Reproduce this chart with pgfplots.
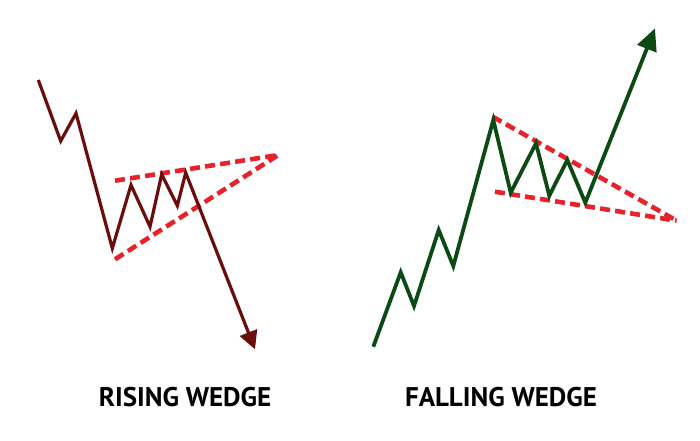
\documentclass[border=0pt]{standalone}
\usepackage{pgfplots}
\pgfplotsset{compat=1.18}
\usetikzlibrary{arrows.meta}
\usepackage{fontspec}
\setmainfont{PT Sans}
\definecolor{wedgered}{HTML}{E8222A}
\definecolor{maroon}{HTML}{6A0D0D}
\definecolor{dgreen}{HTML}{0C4A14}
\begin{document}
\begin{tikzpicture}
\begin{axis}[
  width=350pt, height=220pt, scale only axis,
  xmin=0, xmax=700, ymin=0, ymax=440, y dir=reverse,
  hide axis, clip=false,
]
\path (rel axis cs:0,0) rectangle (rel axis cs:1,1);
% wedge lines
\addplot[wedgered, line width=2.3pt, line join=round, dash pattern=on 5pt off 2.6pt] coordinates {(115,180.7) (278.3,155)};
\addplot[wedgered, line width=2.3pt, line join=round, dash pattern=on 5pt off 2.6pt] coordinates {(115,259.3) (278.3,155)};
\addplot[wedgered, line width=2.3pt, line join=round, dash pattern=on 5pt off 2.6pt] coordinates {(492.7,116.7) (676.7,220.7)};
\addplot[wedgered, line width=2.3pt, line join=round, dash pattern=on 5pt off 2.6pt] coordinates {(495,191.7) (676.7,220.7)};
% rising wedge price
\addplot[maroon, line width=1.6pt, line join=miter, -{Triangle[length=9pt,width=9pt]}] coordinates {
(38.3,80) (60.7,141) (76,113.3) (112.3,248.3) (131,185) (150,226.7) (161.7,174.3) (177.3,205.7) (185.7,172.7) (255,349.3)};
% falling wedge price
\addplot[dgreen, line width=1.9pt, line join=miter, -{Triangle[length=11pt,width=10pt]}] coordinates {
(373.3,346.7) (400.7,272.3) (414,306) (438.7,230) (453.3,266) (493.3,120) (510.7,192.7) (536,143.3) (549.3,195.7) (567.3,160) (585.3,202.7) (655,28.3)};
\node[font=\bfseries\fontsize{13.5}{15}\selectfont, text=black] at (axis cs:185,397) {RISING WEDGE};
\node[font=\bfseries\fontsize{13.5}{15}\selectfont, text=black] at (axis cs:501,397) {FALLING WEDGE};
\end{axis}
\end{tikzpicture}
\end{document}
